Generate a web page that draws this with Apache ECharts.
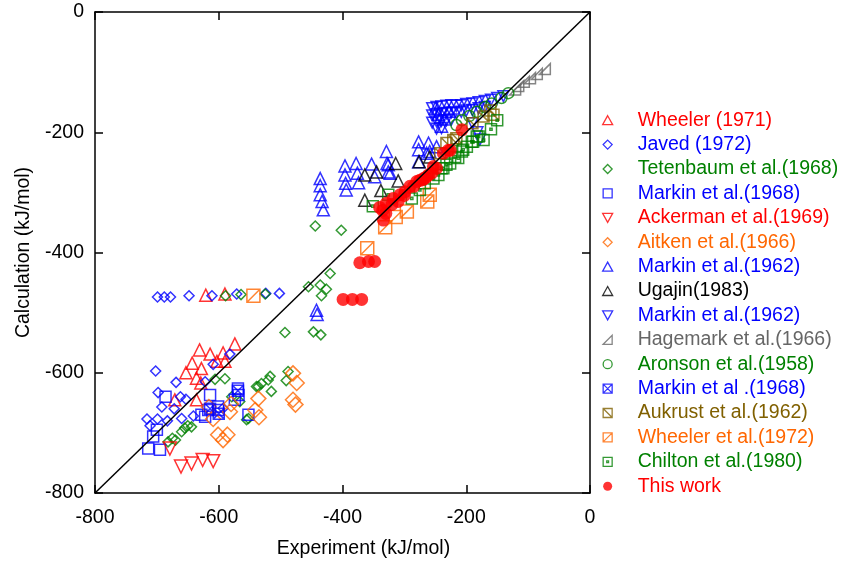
<!DOCTYPE html>
<html><head><meta charset="utf-8">
<script src="https://cdn.jsdelivr.net/npm/echarts@6/dist/echarts.min.js"></script>
<style>html,body{margin:0;padding:0;background:#fff}#c{width:846px;height:571px}</style>
</head><body><div id="c"></div><script>
// ---- data (experiment, calculation) in kJ/mol ----
const xTicks = [-800, -600, -400, -200, 0];
const yTicks = [-800, -600, -400, -200, 0];
const wheeler1971 = [[-631,-562],[-614,-569],[-574,-552],[-593,-567],[-643,-584],[-628,-593],[-653,-600],[-636,-609],[-629,-617],[-671,-645],[-590,-581],[-603,-581],[-621,-471],[-590,-469],[-636,-645]];
const javed1972 = [[-699,-474],[-688,-474],[-678,-474],[-648,-472],[-611,-472],[-571,-469],[-524,-468],[-502,-468],[-702,-597],[-669,-616],[-698,-633],[-692,-657],[-662,-640],[-653,-644],[-672,-660],[-716,-677],[-699,-677],[-711,-688],[-683,-680],[-660,-676],[-641,-672],[-622,-615],[-609,-586],[-582,-569],[-593,-659]];
const tetenbaum1968 = [[-606,-611],[-590,-610],[-655,-692],[-644,-690],[-675,-709],[-670,-712],[-682,-715],[-579,-640],[-566,-648],[-536,-623],[-520,-612],[-515,-631],[-552,-676],[-539,-623],[-531,-618],[-517,-606],[-488,-598],[-491,-613],[-555,-678],[-493,-533],[-447,-532],[-435,-537],[-444,-356],[-402,-363],[-420,-435],[-455,-457],[-436,-454],[-426,-461],[-434,-472],[-589,-472],[-564,-470],[-525,-469],[-650,-688],[-660,-698]];
const markin1968 = [[-686,-640],[-614,-637],[-569,-626],[-568,-637],[-574,-645],[-601,-662],[-617,-662],[-628,-670],[-700,-695],[-706,-706],[-714,-726],[-695,-728],[-601,-656],[-622,-673],[-552,-670]];
const ackerman1969 = [[-679,-726],[-661,-756],[-644,-751],[-626,-745],[-609,-747]];
const aitken1966 = [[-616,-657],[-609,-677],[-580,-652],[-582,-665],[-536,-643],[-541,-662],[-535,-674],[-601,-703],[-586,-703],[-593,-712],[-480,-601],[-474,-617],[-480,-645],[-476,-653]];
const markin1962a = [[-436,-277],[-436,-289],[-436,-304],[-433,-315],[-431,-329],[-396,-256],[-396,-271],[-395,-285],[-394,-296],[-378,-252],[-376,-268],[-374,-284],[-353,-253],[-348,-274],[-328,-252],[-326,-266],[-329,-232],[-326,-254],[-323,-268],[-277,-216],[-277,-229],[-261,-218],[-259,-232],[-442,-496],[-441,-503],[-277,-249],[-264,-235],[-248,-224],[-240,-190],[-235,-178],[-245,-170],[-228,-165],[-250,-160]];
const ugajin1983 = [[-364,-271],[-345,-266],[-314,-252],[-310,-281],[-338,-297],[-364,-313],[-276,-249],[-259,-241]];
const markin1962b = [[-255,-160],[-255,-172],[-255,-184],[-248,-158],[-248,-170],[-248,-182],[-248,-194],[-240,-157],[-240,-169],[-240,-181],[-240,-193],[-232,-156],[-232,-168],[-232,-180],[-224,-155],[-224,-167],[-224,-179],[-216,-156],[-216,-168],[-208,-155],[-208,-166],[-200,-153],[-200,-164],[-190,-152],[-190,-163],[-180,-150],[-180,-160],[-170,-148],[-170,-158],[-160,-146],[-150,-143],[-140,-140],[-190,-185],[-182,-200],[-178,-212]];
const hagemark1966 = [[-73,-95],[-86,-103],[-97,-110],[-107,-116],[-116,-123],[-121,-129]];
const aronson1958 = [[-132,-135],[-143,-143],[-159,-152],[-170,-158],[-183,-166],[-195,-173],[-207,-180],[-216,-188]];
const markin1968b = [[-569,-630],[-614,-660],[-600,-668]];
const aukrust1962 = [[-161,-164],[-172,-174],[-221,-213],[-232,-218],[-156,-171],[-216,-210],[-242,-235],[-190,-185]];
const wheeler1972 = [[-259,-304],[-263,-315],[-296,-332],[-314,-341],[-331,-358],[-360,-393],[-544,-472]];
const chilton1980 = [[-240,-260],[-232,-254],[-218,-241],[-207,-232],[-199,-224],[-191,-216],[-183,-207],[-267,-285],[-275,-296],[-288,-310],[-172,-213],[-180,-207],[-189,-216],[-205,-229],[-213,-243],[-226,-252],[-237,-260],[-245,-271],[-253,-277],[-351,-323],[-326,-304],[-160,-195],[-150,-180]];
const thisWork = [[-372,-417],[-358,-415],[-348,-415],[-399,-478],[-384,-478],[-369,-478],[-334,-346],[-335,-330],[-329,-318],[-318,-310],[-307,-304],[-299,-299],[-291,-290],[-280,-282],[-269,-277],[-256,-268],[-248,-260],[-237,-235],[-226,-230],[-207,-196],[-229,-230],[-253,-257],[-261,-271],[-270,-279],[-340,-325],[-330,-335],[-320,-320],[-310,-315],[-300,-305],[-285,-290],[-275,-280],[-265,-275]];
const diagonal = [[-800,-800],[0,0]];

// ---- styling ----
const FONT = '"Liberation Sans", Arial, sans-serif';
const RED='#ff0000', BLUE='#0000ff', GREEN='#008000', ORANGE='#ff6600', GRAY='#666666', OLIVE='#806000';
const SYM = {
  tri: 'path://M5,0 L10,9 L0,9 Z',
  dia: 'path://M5,0 L10,5 L5,10 L0,5 Z',
  sq: 'path://M0,0 L10,0 L10,10 L0,10 Z',
  down: 'path://M0,0 L10,0 L5,9 Z',
  corner: 'path://M0,10 L10,0 L10,10 Z',
  circ: 'circle',
  boxX: 'path://M0,0 L10,0 L10,10 L0,10 Z M0,0 L10,10 M10,0 L0,10',
  boxB: 'path://M0,0 L10,0 L10,10 L0,10 Z M0,0 L10,10',
  boxF: 'path://M0,0 L10,0 L10,10 L0,10 Z M0,10 L10,0',
  boxD: 'path://M0,0 L10,0 L10,10 L0,10 Z M4,4 L6,4 L6,6 L4,6 Z'
};
const defs = [
  {name:'Wheeler (1971)', data:wheeler1971, sym:SYM.tri, size:12, color:RED},
  {name:'Javed (1972)', data:javed1972, sym:SYM.dia, size:10, color:BLUE},
  {name:'Tetenbaum et al.(1968)', data:tetenbaum1968, sym:SYM.dia, size:10, color:GREEN},
  {name:'Markin et al.(1968)', data:markin1968, sym:SYM.sq, size:11, color:BLUE},
  {name:'Ackerman et al.(1969)', data:ackerman1969, sym:SYM.down, size:13, color:RED},
  {name:'Aitken et al.(1966)', data:aitken1966, sym:SYM.dia, size:15, color:ORANGE},
  {name:'Markin et al.(1962)', data:markin1962a, sym:SYM.tri, size:12, color:BLUE},
  {name:'Ugajin(1983)', data:ugajin1983, sym:SYM.tri, size:12, color:'#000000'},
  {name:'Markin et al.(1962) ', data:markin1962b, sym:SYM.down, size:11, color:BLUE},
  {name:'Hagemark et al.(1966)', data:hagemark1966, sym:SYM.corner, size:11, color:GRAY},
  {name:'Aronson et al.(1958)', data:aronson1958, sym:SYM.circ, size:11, color:GREEN},
  {name:'Markin et al .(1968)', data:markin1968b, sym:SYM.boxX, size:11, color:BLUE},
  {name:'Aukrust et al.(1962)', data:aukrust1962, sym:SYM.boxB, size:11, color:OLIVE},
  {name:'Wheeler et al.(1972)', data:wheeler1972, sym:SYM.boxF, size:13, color:ORANGE},
  {name:'Chilton et al.(1980)', data:chilton1980, sym:SYM.boxD, size:11, color:GREEN},
  {name:'This work', data:thisWork, sym:SYM.circ, size:13, color:RED, filled:true}
];

const series = defs.map(d => ({
  type:'scatter', name:d.name, data:d.data, symbol:d.sym, symbolSize:d.size,
  itemStyle: d.filled ? {color:d.color} : {color:'rgba(255,255,255,0)', borderColor:d.color, borderWidth:1.5},
  emphasis:{disabled:true}, z:3
}));
series.push({type:'line', name:'diag', data:diagonal, symbol:'none', silent:true,
  lineStyle:{color:'#000', width:1.5}, z:4});

const axisCommon = {
  type:'value', min:-800, max:0, interval:200, splitLine:{show:false},
  axisLine:{onZero:false, lineStyle:{color:'#000', width:1.5}},
  axisTick:{inside:true, length:8, lineStyle:{color:'#000', width:1.5}}
};
const labelStyle = {color:'#000', fontSize:19.5, fontFamily:FONT};

const option = {
  animation:false,
  backgroundColor:'#fff',
  grid:{left:95, right:256, top:12, bottom:78},
  xAxis:[
    Object.assign({}, axisCommon, {position:'bottom', axisLabel:Object.assign({margin:15}, labelStyle),
      name:'Experiment (kJ/mol)', nameLocation:'middle', nameGap:46,
      nameTextStyle:Object.assign({padding:[0,0,0,42]}, labelStyle)}),
    Object.assign({}, axisCommon, {position:'top', axisLabel:{show:false}})
  ],
  yAxis:[
    Object.assign({}, axisCommon, {position:'left', axisLabel:Object.assign({margin:11}, labelStyle),
      name:'Calculation (kJ/mol)', nameLocation:'middle', nameGap:60, nameTextStyle:labelStyle}),
    Object.assign({}, axisCommon, {position:'right', axisLabel:{show:false}})
  ],
  legend:{
    orient:'vertical', left:602, top:108, padding:0, itemGap:0, itemWidth:10, itemHeight:9,
    selectedMode:false,
    itemStyle:{borderWidth:1.3},
    textStyle:{fontSize:19.5, fontFamily:FONT, lineHeight:24.4, padding:[0,0,0,20]},
    data: defs.map(d => ({name:d.name, textStyle:{color:d.color}}))
  },
  series: series
};
echarts.init(document.getElementById('c'), null, {renderer:'canvas'}).setOption(option);
</script></body></html>
